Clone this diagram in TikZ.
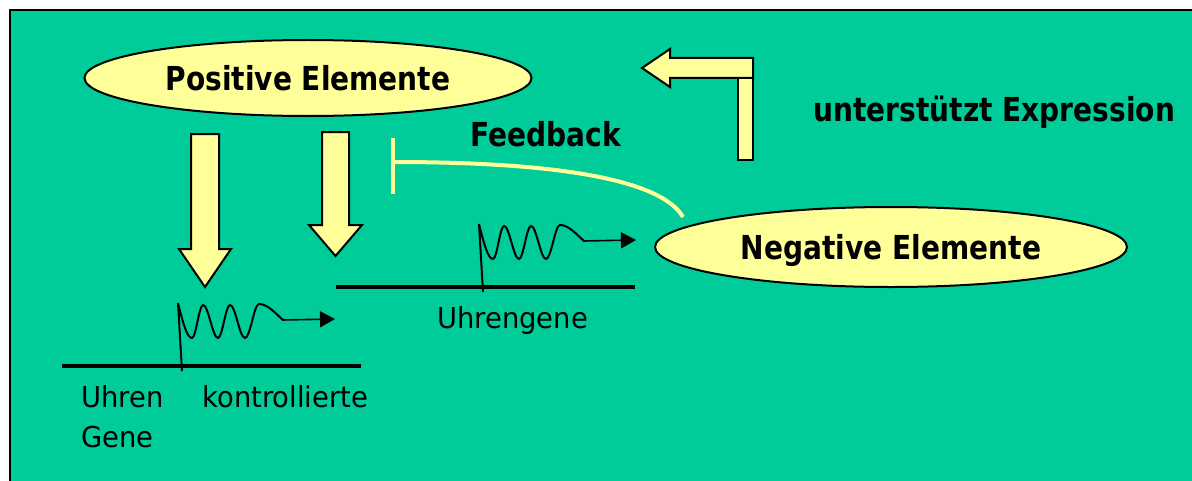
\documentclass[tikz,border=0pt]{standalone}
\usepackage{fontspec}
\setmainfont{DejaVu Sans}
\usepackage{graphicx}
\usetikzlibrary{shapes.geometric,arrows.meta}
\definecolor{bggreen}{RGB}{0,204,153}
\definecolor{paleyellow}{RGB}{255,255,153}
\newcommand\regtxt[1]{{\fontsize{14.4}{17}\selectfont\scalebox{0.95}[1]{#1}}}
\newcommand\boldtxt[1]{{\fontsize{16.5}{20}\selectfont\bfseries\scalebox{0.85}[1]{#1}}}
\tikzset{
  blob/.style={ellipse, draw=black, line width=1pt, fill=paleyellow, inner sep=0pt, text depth=0pt},
  blockarrow/.style={draw=black, line width=1pt, fill=paleyellow, line join=miter},
  label/.style={inner sep=0pt, anchor=base west, text=black},
  geneline/.style={line width=2pt, black},
  feedback/.style={line width=2pt, draw=paleyellow},
  wave/.pic={
    \draw[line width=1pt] (0,0) -- (-4,-68) .. controls (1,-48) and (5,-33) .. (10,-33)
      cos (15.5,-49.5) sin (21,-66) cos (28.5,-49.5) sin (36,-33)
      cos (42,-49.5) sin (48,-66) cos (55.5,-49.5) sin (63,-33)
      cos (70,-49.5) sin (77,-67) .. controls (86,-67) and (94,-57) .. (101,-51);
    \draw[line width=0.8pt, -{Triangle[length=7.5pt,width=8pt]}] (100,-51) -- (153,-52);
  }
}
\begin{document}
\begin{tikzpicture}[x=0.5pt,y=-0.5pt]
  \useasboundingbox (0,0) rectangle (1192,481);
  \fill[white] (0,0) rectangle (1192,481);
  \fill[bggreen] (10,10) rectangle (1192,481);
  \draw[line width=1pt] (10,481) -- (10,10) -- (1192,10);

  % ellipses
  \node[blob, minimum width=223.5pt, minimum height=38pt] (pos) at (308,78) {\boldtxt{Positive Elemente}};
  \node[blob, minimum width=236pt, minimum height=40pt] (neg) at (891,247) {\boldtxt{Negative Elemente}};

  % down arrows
  \draw[blockarrow] (191,134) -- (219,134) -- (219,249) -- (231,249) -- (205,287) -- (179,249) -- (191,249) -- cycle;
  \draw[blockarrow] (322,132) -- (349,132) -- (349,225) -- (362,225) -- (335.5,256) -- (309,225) -- (322,225) -- cycle;

  % L-shaped arrow
  \draw[blockarrow] (738,78) rectangle (753,160);
  \draw[blockarrow] (642,68) -- (670,49) -- (670,58) -- (753,58) -- (753,78) -- (670,78) -- (670,87) -- cycle;

  % feedback inhibition
  \coordinate (fbstart) at (683,217);
  \coordinate (fbend) at (393,162);
  \coordinate (bartop) at (393,138);
  \coordinate (barbot) at (393,194);
  \draw[feedback] (fbstart) .. controls (660,178) and (550,162) .. (fbend);
  \draw[feedback] (bartop) -- (barbot);

  % gene lines
  \coordinate (g1a) at (62,366);
  \coordinate (g1b) at (361,366);
  \coordinate (g2a) at (336,287);
  \coordinate (g2b) at (635,287);
  \draw[geneline] (g1a) -- (g1b);
  \draw[geneline] (g2a) -- (g2b);

  % transcription waves
  \pic at (182,371) {wave};
  \pic at (483,292) {wave};

  % labels
  \node[label] (fb) at (470,146) {\boldtxt{Feedback}};
  \node[label] (expr) at (813,121) {\boldtxt{unterstützt Expression}};
  \node[label] (uhren) at (81,407) {\regtxt{Uhren}};
  \node[label] (kontr) at (202,407) {\regtxt{kontrollierte}};
  \node[label] (gene) at (81,447) {\regtxt{Gene}};
  \node[label] (uhrg) at (437,328) {\regtxt{Uhrengene}};
\end{tikzpicture}
\end{document}
